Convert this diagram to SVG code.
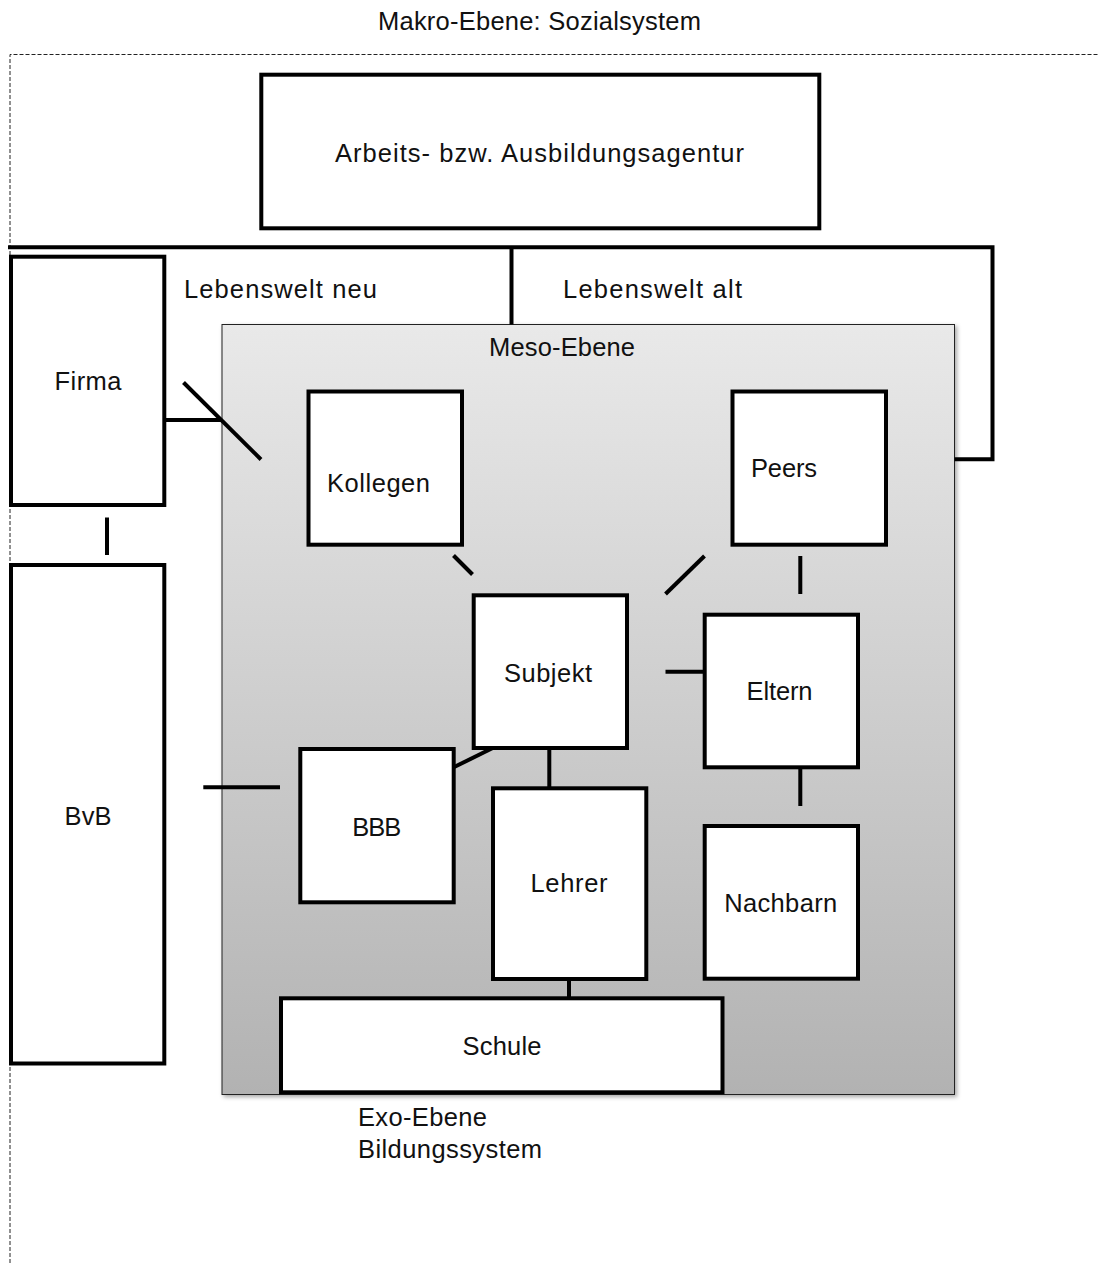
<svg xmlns="http://www.w3.org/2000/svg" width="1099" height="1263" viewBox="0 0 1099 1263">
  <style>
    text { font-family: "Liberation Sans", Arial, Helvetica, sans-serif; font-size: 25.5px; fill: #111; }
    .box { fill: #fff; stroke: #000; stroke-width: 4; }
    .link { stroke: #000; stroke-width: 4; fill: none; }
    .dash { stroke: #222; stroke-width: 1; stroke-dasharray: 4 2; fill: none; }
    .mid { text-anchor: middle; }
  </style>
  <defs>
    <linearGradient id="mesoFill" x1="0" y1="0" x2="0" y2="1">
      <stop offset="0" stop-color="#e9e9e9"/>
      <stop offset="1" stop-color="#b2b2b2"/>
    </linearGradient>
    <filter id="soft" x="-5%" y="-5%" width="110%" height="110%">
      <feDropShadow dx="2" dy="2" stdDeviation="2" flood-color="#000" flood-opacity="0.35"/>
    </filter>
  </defs>

  <rect width="1099" height="1263" fill="#fff"/>

  <!-- Makro level: dashed frame -->
  <g id="makro">
    <path class="dash" d="M10,1263 V54.5 H1099"/>
    <text class="mid" x="539.5" y="30" textLength="323" lengthAdjust="spacing">Makro-Ebene: Sozialsystem</text>
  </g>

  <!-- Meso level panel -->
  <g id="meso">
    <rect x="222" y="324.5" width="732.5" height="770" fill="url(#mesoFill)" stroke="#222" stroke-width="1" filter="url(#soft)"/>
    <text class="mid" x="562" y="356" textLength="146" lengthAdjust="spacing">Meso-Ebene</text>
  </g>

  <!-- connectors -->
  <g id="connectors">
    <path class="link" d="M8,247.3 H992.5 V459.3 H954.5"/>
    <path class="link" d="M511.5,247.3 V324.5"/>
    <path class="link" d="M164,420 H222"/>
    <path class="link" d="M183.5,382.5 L261,459.5"/>
    <path class="link" d="M107,517.5 V555"/>
    <path class="link" d="M453.5,555.5 L472.5,574.5"/>
    <path class="link" d="M665.5,594 L704.5,556"/>
    <path class="link" d="M800.3,556 V594"/>
    <path class="link" d="M665.5,671.7 H704.7"/>
    <path class="link" d="M800.3,767.3 V806"/>
    <path class="link" d="M453.7,767.3 L492.7,748"/>
    <path class="link" d="M549.3,748 V788.3"/>
    <path class="link" d="M569,979 V998.3"/>
    <path class="link" d="M203.3,787.3 H280"/>
  </g>

  <g id="agentur">
    <rect class="box" x="261.3" y="74.7" width="558" height="153.6"/>
    <text class="mid" x="539.5" y="162" textLength="409" lengthAdjust="spacing">Arbeits- bzw. Ausbildungsagentur</text>
  </g>

  <g id="lebenswelt-neu">
    <text x="184" y="298" textLength="193" lengthAdjust="spacing">Lebenswelt neu</text>
  </g>
  <g id="lebenswelt-alt">
    <text x="563" y="298" textLength="179" lengthAdjust="spacing">Lebenswelt alt</text>
  </g>

  <g id="firma">
    <rect class="box" x="11" y="256.7" width="153.3" height="248.3"/>
    <text class="mid" x="88" y="390" textLength="67" lengthAdjust="spacing">Firma</text>
  </g>

  <g id="bvb">
    <rect class="box" x="11" y="565" width="153.3" height="498.5"/>
    <text class="mid" x="88" y="825" textLength="47" lengthAdjust="spacing">BvB</text>
  </g>

  <g id="kollegen">
    <rect class="box" x="308.5" y="391.5" width="153.5" height="153.2"/>
    <text class="mid" x="378.5" y="492" textLength="103" lengthAdjust="spacing">Kollegen</text>
  </g>

  <g id="peers">
    <rect class="box" x="732.5" y="391.5" width="153.5" height="153.2"/>
    <text class="mid" x="784" y="477" textLength="66" lengthAdjust="spacing">Peers</text>
  </g>

  <g id="subjekt">
    <rect class="box" x="473.7" y="595.3" width="153.3" height="152.7"/>
    <text class="mid" x="548" y="681.5" textLength="88" lengthAdjust="spacing">Subjekt</text>
  </g>

  <g id="eltern">
    <rect class="box" x="704.7" y="614.7" width="153.3" height="152.6"/>
    <text class="mid" x="779.5" y="700" textLength="66" lengthAdjust="spacing">Eltern</text>
  </g>

  <g id="nachbarn">
    <rect class="box" x="704.7" y="826" width="153.3" height="152.7"/>
    <text class="mid" x="780.7" y="911.7" textLength="113" lengthAdjust="spacing">Nachbarn</text>
  </g>

  <g id="bbb">
    <rect class="box" x="300.3" y="749" width="153.4" height="153.3"/>
    <text class="mid" x="376.7" y="835.7" textLength="49" lengthAdjust="spacing">BBB</text>
  </g>

  <g id="lehrer">
    <rect class="box" x="493" y="788.3" width="153.3" height="190.7"/>
    <text class="mid" x="569" y="892.3" textLength="77" lengthAdjust="spacing">Lehrer</text>
  </g>

  <g id="schule">
    <rect class="box" x="281" y="998.3" width="441.5" height="94"/>
    <text class="mid" x="502" y="1055" textLength="79" lengthAdjust="spacing">Schule</text>
  </g>

  <g id="exo">
    <text x="358" y="1126" textLength="129" lengthAdjust="spacing">Exo-Ebene</text>
    <text x="358" y="1158.3" textLength="184" lengthAdjust="spacing">Bildungssystem</text>
  </g>
</svg>
